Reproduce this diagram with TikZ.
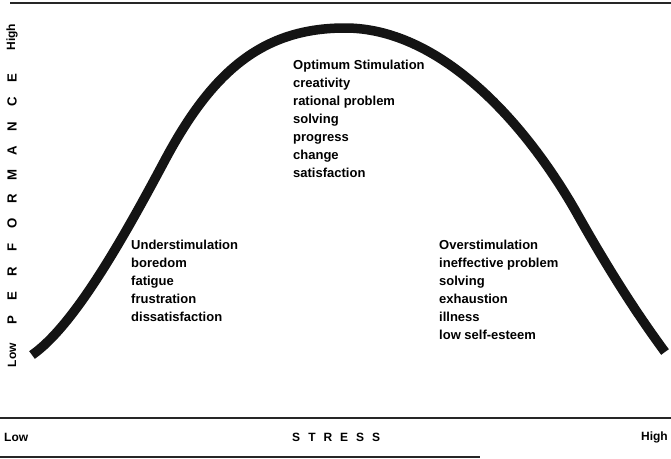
\documentclass[tikz,border=0pt]{standalone}
\usepackage{fontspec}
\setmainfont{Liberation Sans}
\usepackage{tikz}

\begin{document}
\begin{tikzpicture}[x=1pt, y=-1pt,
          lbl/.style={font=\fontsize{13}{18}\selectfont\bfseries,
                      align=left, anchor=north west, inner sep=0pt},
          axislbl/.style={font=\fontsize{12}{12}\selectfont\bfseries,
                          inner sep=0pt},
          rule/.style={line width=1.6pt, black!85},
          curve/.style={line width=9.5pt, black!92, line cap=butt}
        ]
        \useasboundingbox (0,0) rectangle (671,458);

        % Rules above and below the chart
        \draw[rule] (10,3) -- (671,3);
        \draw[rule] (0,418) -- (671,418);
        \draw[rule] (0,457) -- (480,457);

        % Performance axis
        \node[axislbl, rotate=90] (yhigh) at (12,37) {High};
        \node[axislbl, rotate=90] (ylow)  at (12,355) {Low};
        \foreach \c [count=\i from 0] in {P,E,R,F,O,R,M,A,N,C,E}
          \node[axislbl, rotate=90, scale=1.1] (perf\i) at (12,320-24.2*\i) {\c};

        % Stress axis
        \node[axislbl, anchor=west] (xlow)  at (4,437) {Low};
        \node[axislbl, anchor=east] (xhigh) at (668,437) {High};
        \foreach \c [count=\i from 0] in {S,T,R,E,S,S}
          \node[axislbl] (stress\i) at (296+16*\i,437) {\c};

        % Inverted-U curve, peak at (345,28)
        \coordinate (peak) at (345,28);
        \draw[curve] (32,355) .. controls (75,325) and (125,235) .. (165,160)
                     .. controls (212,72) and (262,28) .. (peak)
                     .. controls (438,28) and (522,118) .. (575,210)
                     .. controls (612,276) and (640,318) .. (665,352);

        % Zone descriptions
        \node[lbl] (optimum) at (293,59.5)
              {Optimum Stimulation\\creativity\\rational problem\\solving\\progress\\change\\satisfaction};
        \node[lbl] (under) at (131,240)
              {Understimulation\\boredom\\fatigue\\frustration\\dissatisfaction};
        \node[lbl] (over) at (439,240)
              {Overstimulation\\ineffective problem\\solving\\exhaustion\\illness\\low self-esteem};
      \end{tikzpicture}
\end{document}
